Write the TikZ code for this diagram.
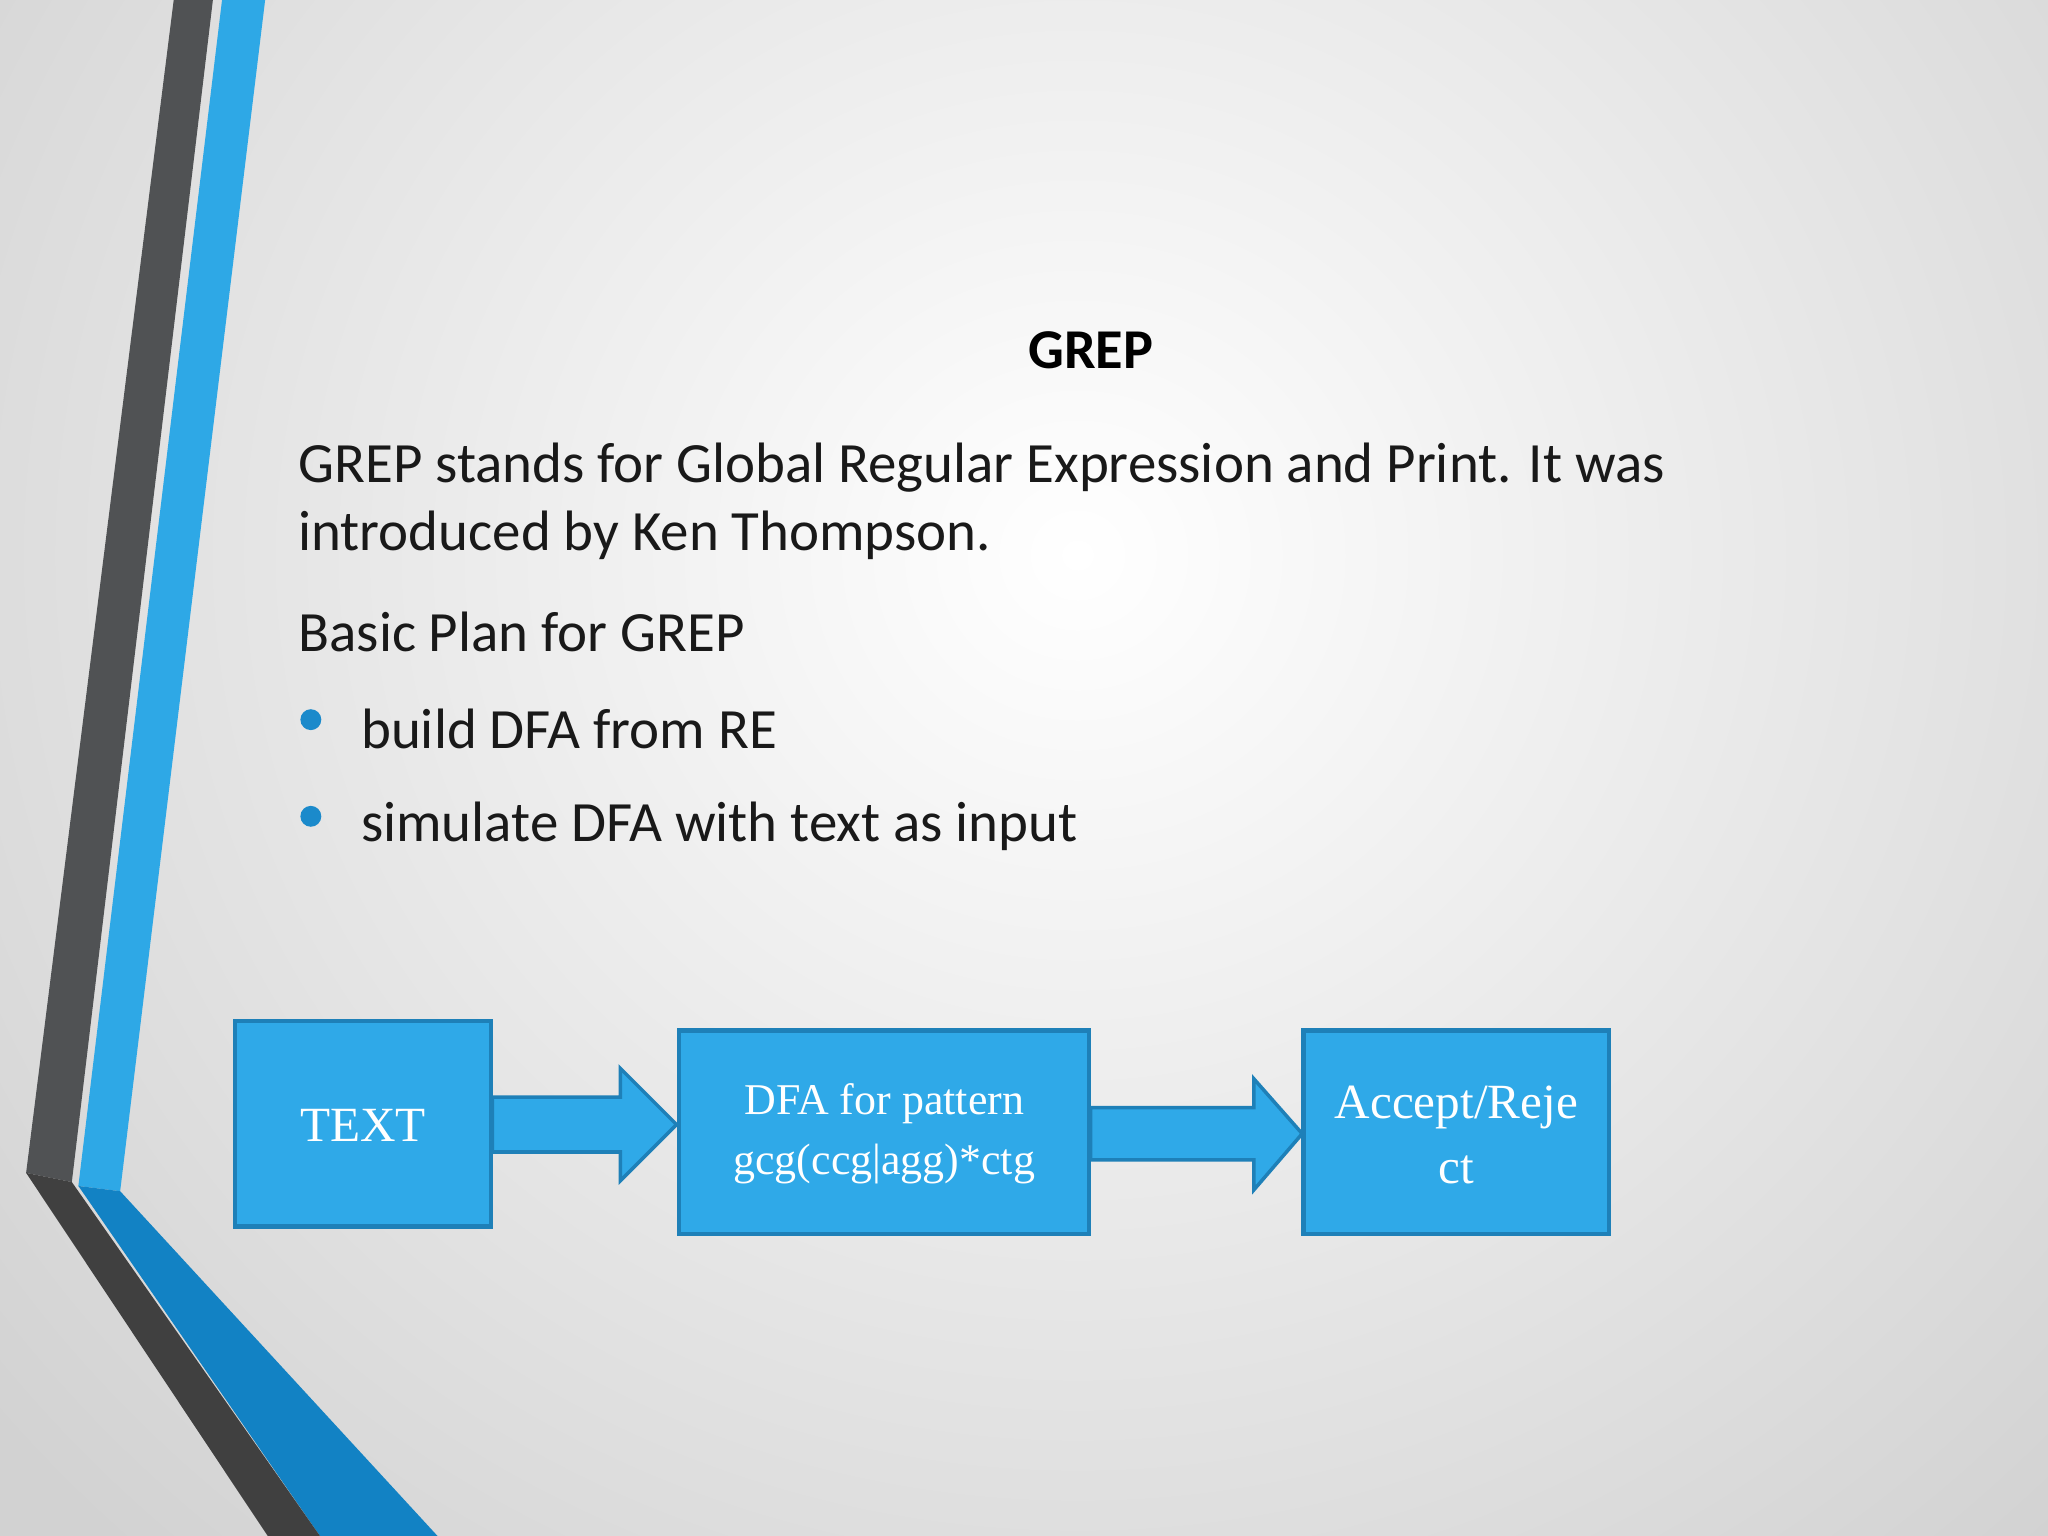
\documentclass[tikz,border=0pt]{standalone}
\usepackage{fontspec}
\setmainfont{Carlito}
\newfontfamily\serf{Liberation Serif}
\definecolor{boxblue}{HTML}{2FA9E8}
\definecolor{boxedge}{HTML}{1E80B8}
\definecolor{stripeblue}{HTML}{2EA8E6}
\definecolor{deepblue}{HTML}{1282C4}
\definecolor{darkgray}{HTML}{505254}
\definecolor{bullet}{HTML}{1B8ACB}
\begin{document}
\begin{tikzpicture}[x=0.01306cm,y=-0.01306cm,
  blk/.style={draw=boxedge,line width=1.2pt,fill=boxblue},
  barrow/.style={draw=boxedge,line width=1pt,fill=boxblue},
  body/.style={anchor=west,font=\fontsize{16.2}{19}\selectfont,text=black!90,inner sep=0pt}]
\useasboundingbox (0,0) rectangle (1568,1176);
\fill[gray!35] (0,0) rectangle (1568,1176);
\shade[inner color=white,outer color=gray!35] (-250,-600) rectangle (1900,1450);
% stripes
\fill[darkgray] (133,0)--(163,0)--(55,905)--(20,898)--cycle;
\fill[stripeblue] (170,0)--(203,0)--(92,912)--(60,908)--cycle;
\fill[deepblue] (60,908)--(92,912)--(335,1176)--(245,1176)--cycle;
\fill[black!75] (20,898)--(55,905)--(245,1176)--(205,1176)--cycle;
% texts
\node[font=\bfseries\fontsize{16}{19}\selectfont] (title) at (835,268) {GREP};
\node[body] (l1) at (228,358) {GREP stands for Global Regular Expression and Print. It was};
\node[body] (l2) at (228,410) {introduced by Ken Thompson.};
\node[body] (l3) at (228,484) {Basic Plan for GREP};
\node[body] (b1) at (276,558) {build DFA from RE};
\node[body] (b2) at (276,633) {simulate DFA with text as input};
\fill[bullet] (238,551) circle (8);
\fill[bullet] (238,625) circle (8);
% boxes
\path (180,782) coordinate (t1) (376,939) coordinate (t2);
\draw[blk] (t1) rectangle (t2);
\node[text=white,font=\serf\fontsize{14}{16}\selectfont] (tx) at (278,862) {TEXT};
\path (520,789) coordinate (d1) (834,945) coordinate (d2);
\draw[blk] (d1) rectangle (d2);
\node[text=white,align=center,font=\serf\fontsize{12.5}{17}\selectfont] (dx) at (677,868) {DFA for pattern\\gcg(ccg|agg)*ctg};
\path (998,789) coordinate (a1) (1232,945) coordinate (a2);
\draw[blk] (a1) rectangle (a2);
\node[text=white,align=center,font=\serf\fontsize{14}{18.5}\selectfont] (ax) at (1115,869) {Accept/Reje\\ct};
% block arrows
\draw[barrow] (377,840)--(475,840)--(475,818)--(518,861)--(475,904)--(475,882)--(377,882)--cycle;
\draw[barrow] (835,848)--(960,848)--(960,826)--(997,868)--(960,911)--(960,888)--(835,888)--cycle;
\end{tikzpicture}
\end{document}
